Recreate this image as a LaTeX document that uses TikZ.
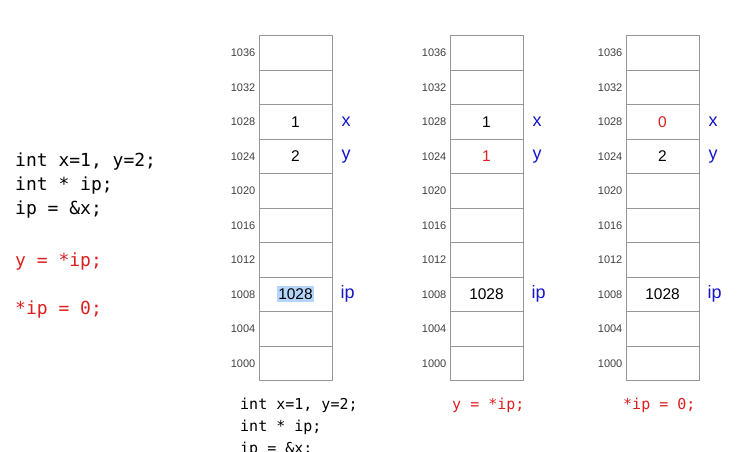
\documentclass[tikz,border=0pt]{standalone}
\usepackage{fontspec}
\setmainfont{Liberation Sans}
\newfontfamily\codefont{DejaVu Sans Mono}
\usetikzlibrary{positioning}
\definecolor{varblue}{RGB}{20,20,205}
\definecolor{codered}{RGB}{220,30,30}
\definecolor{boxgray}{RGB}{150,150,150}
\definecolor{selblue}{RGB}{180,213,254}
\tikzset{
  cell/.style={draw=boxgray,line width=0.9pt,minimum width=73pt,minimum height=34.5pt,inner sep=0pt},
  addr/.style={font=\fontsize{11}{11}\selectfont,text=black!75,inner sep=0pt},
  val/.style={font=\fontsize{15.5}{15.5}\selectfont,inner sep=0pt},
  var/.style={font=\fontsize{18}{18}\selectfont,text=varblue,inner sep=0pt},
  code/.style={font=\codefont\fontsize{18}{24}\selectfont,inner sep=0pt,anchor=base west},
  scode/.style={font=\codefont\fontsize{15}{22}\selectfont,inner sep=0pt,anchor=base west},
  sel/.style={fill=selblue,inner xsep=1.5pt,minimum height=16pt},
}
\begin{document}
\begin{tikzpicture}[x=1pt,y=-1pt]
  \clip (0,0) rectangle (750,452);
  % source code on the left
  \node[code] (code1) at (15,166) {int x=1, y=2;};
  \node[code] (code2) at (15,190) {int * ip;};
  \node[code] (code3) at (15,214) {ip = \&x;};
  \node[code,text=codered] (code4) at (15,266) {y = *ip;};
  \node[code,text=codered] (code5) at (15,314) {*ip = 0;};
  % three memory columns
  \foreach \c/\cx in {1/295.5, 2/486.5, 3/662.5}{
    \foreach \a [count=\r from 0] in {1036,1032,...,1000}{
      \node[cell] (m\c-\a) at (\cx,52.75+34.5*\r) {};
      \node[addr,left=3pt of m\c-\a] (a\c-\a) {\a};
    }
    \node[var,right=9pt of m\c-1028] (x\c) {x};
    \node[var,right=9pt of m\c-1024] (y\c) {y};
    \node[var,right=8pt of m\c-1008] (ip\c) {ip};
  }
  % after int x=1, y=2; ...
  \node[val] (v1-1028) at (m1-1028) {1};
  \node[val] (v1-1024) at (m1-1024) {2};
  \node[val,sel] (v1-1008) at (m1-1008) {1028};
  % after y = *ip;
  \node[val] (v2-1028) at (m2-1028) {1};
  \node[val,text=codered] (v2-1024) at (m2-1024) {1};
  \node[val] (v2-1008) at (m2-1008) {1028};
  % after *ip = 0;
  \node[val,text=codered] (v3-1028) at (m3-1028) {0};
  \node[val] (v3-1024) at (m3-1024) {2};
  \node[val] (v3-1008) at (m3-1008) {1028};
  % captions under the columns
  \node[scode] (cap1a) at (240,409) {int x=1, y=2;};
  \node[scode] (cap1b) at (240,431) {int * ip;};
  \node[scode] (cap1c) at (240,453) {ip = \&x;};
  \node[scode,text=codered] (cap2) at (452,409) {y = *ip;};
  \node[scode,text=codered] (cap3) at (623,409) {*ip = 0;};
\end{tikzpicture}
\end{document}
